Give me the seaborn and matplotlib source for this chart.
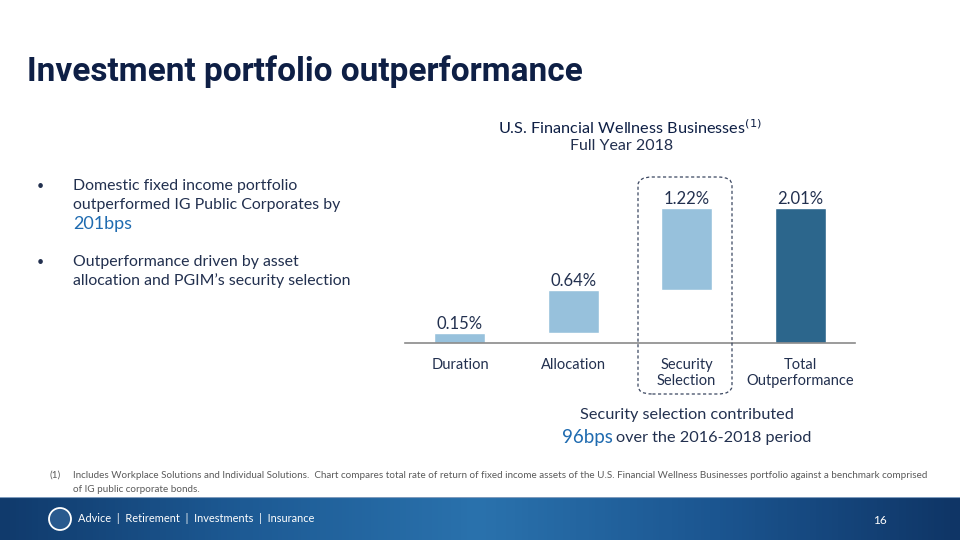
import matplotlib
matplotlib.use("Agg")
import matplotlib.pyplot as plt
from matplotlib.patches import FancyBboxPatch, Ellipse
import numpy as np
import seaborn as sns

# data
categories = ["Duration", "Allocation", "Security\nSelection", "Total\nOutperformance"]
contrib = [0.15, 0.64, 1.22, 2.01]
bases = [0.0, 0.15, 0.79, 0.0]
value_labels = ["0.15%", "0.64%", "1.22%", "2.01%"]

light = "#97c1dc"
dark = "#2c668c"
navy = "#0e1f45"
txt = "#22304f"

sns.set_style("white")
plt.rcParams["font.family"] = ["Lato", "DejaVu Sans"]

W, H = 960, 540
fig = plt.figure(figsize=(9.6, 5.4), dpi=100)


def fx(x):
    return x / W


def fy(y):
    return 1 - y / H


# chart axes (pixel box 405..855 x, baseline at 343)
ax = fig.add_axes([fx(405), fy(343), fx(855) - fx(405), fy(178) - fy(343)])
sns.barplot(x=categories, y=contrib, bottom=bases, color=light, width=0.45,
            saturation=1, ax=ax)
ax.patches[-1].set_facecolor(dark)
ax.set_xlim(-0.485, 3.485)
ax.set_ylim(0, (343 - 178) / 67.2)
for s in ["top", "right", "left"]:
    ax.spines[s].set_visible(False)
ax.spines["bottom"].set_color("#8a8a8a")
ax.spines["bottom"].set_linewidth(1.2)
ax.set_yticks([])
ax.tick_params(axis="x", length=0, pad=11, labelsize=10.5, labelcolor=txt)
for lab in ax.get_xticklabels():
    lab.set_linespacing(1.2)
ax.bar_label(ax.containers[0], labels=value_labels, padding=1, fontsize=12, color=txt)

# dashed box around security selection
box = FancyBboxPatch((fx(638), fy(394)), fx(732) - fx(638), fy(177) - fy(394),
                     boxstyle="round,pad=0,rounding_size=0.015", transform=fig.transFigure,
                     fill=False, ec="#3a4660", lw=0.9, ls=(0, (2.5, 2)))
fig.patches.append(box)

# title
fig.text(fx(27), fy(81), "Investment portfolio outperformance", fontsize=24,
         fontweight="bold", fontstretch="condensed", color=navy, va="baseline",
         family=["Roboto", "DejaVu Sans"])

# chart header
fig.text(fx(630), fy(128), "U.S. Financial Wellness Businesses$^{(1)}$", ha="center",
         va="center", fontsize=11.7, color=navy)
fig.text(fx(622), fy(146), "Full Year 2018", ha="center", va="center", fontsize=11.5,
         color=txt)

# bullets
fig.text(fx(37), fy(186), "•", fontsize=9, color=txt, va="center")
fig.text(fx(73), fy(186), "Domestic fixed income portfolio", fontsize=11.4, color=txt, va="center")
fig.text(fx(73), fy(205), "outperformed IG Public Corporates by", fontsize=11.4, color=txt,
         va="center")
fig.text(fx(73), fy(224), "201bps", fontsize=13, color="#1f6bb0", va="center")
fig.text(fx(37), fy(262), "•", fontsize=9, color=txt, va="center")
fig.text(fx(73), fy(262), "Outperformance driven by asset", fontsize=11.4, color=txt, va="center")
fig.text(fx(73), fy(281), "allocation and PGIM’s security selection", fontsize=11.4, color=txt,
         va="center")

# note under chart
fig.text(fx(687), fy(415), "Security selection contributed", ha="center", va="center",
         fontsize=11.7, color=txt)
fig.text(fx(613), fy(438), "96bps", ha="right", va="center", fontsize=13.5, color="#1f6bb0")
fig.text(fx(616), fy(438), "over the 2016-2018 period", ha="left", va="center", fontsize=11.7,
         color=txt)

# footnote
fig.text(fx(50), fy(475), "(1)", fontsize=7.2, color="#5a5a5a", va="center")
fig.text(fx(73), fy(475),
         "Includes Workplace Solutions and Individual Solutions.  Chart compares total rate of "
         "return of fixed income assets of the U.S. Financial Wellness Businesses portfolio "
         "against a benchmark comprised", fontsize=7.15, color="#5a5a5a", va="center")
fig.text(fx(73), fy(489), "of IG public corporate bonds.", fontsize=7.15, color="#5a5a5a",
         va="center")

# footer band
fax = fig.add_axes([0, 0, 1, fy(497)])
grad = np.linspace(0, 1, 300)
band = np.vstack([grad] * 10)
fax.imshow(band, aspect="auto",
           cmap=sns.blend_palette(["#103a6c", "#1d5a94", "#2a72ad", "#1b5590", "#0f3566"],
                                  as_cmap=True), extent=[0, 1, 0, 1])
fax.axhline(1, color="#7f9cbd", lw=1.5)
fax.set_xlim(0, 1)
fax.set_ylim(0, 1)
fax.axis("off")
fig.patches.append(Ellipse((fx(60), fy(519)), 22 / W, 22 / H, transform=fig.transFigure,
                           fc="#2a5a8e", ec="white", lw=1.3))
fig.text(fx(78), fy(518), "Advice  |  Retirement  |  Investments  |  Insurance", fontsize=7.9,
         color="white", va="center")
fig.text(fx(880), fy(521), "16", fontsize=8.5, color="white", va="center", ha="center")

fig.savefig("out.png", dpi=100)
